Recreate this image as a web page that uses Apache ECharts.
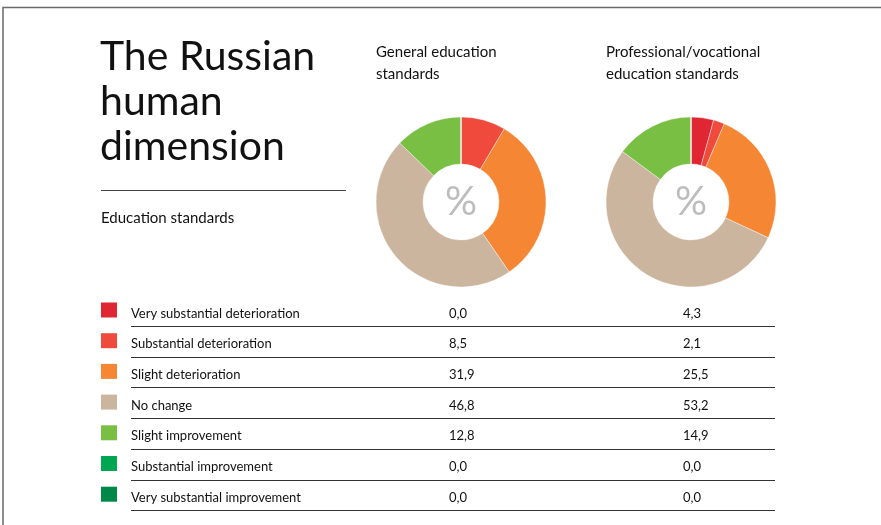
<!DOCTYPE html>
<html>
<head>
<meta charset="utf-8">
<script src="https://cdn.jsdelivr.net/npm/echarts@6/dist/echarts.min.js"></script>
<style>
  html, body { margin: 0; padding: 0; background: #fff; }
  #chart { width: 881px; height: 525px; }
</style>
</head>
<body>
<div id="chart"></div>
<script>
// Change categories, shared by both doughnuts and the table
const categories = [
  'Very substantial deterioration',
  'Substantial deterioration',
  'Slight deterioration',
  'No change',
  'Slight improvement',
  'Substantial improvement',
  'Very substantial improvement'
];
const categoryColors = ['#e02633', '#ef4a3c', '#f58634', '#cbb59e', '#79bf43', '#00a651', '#008848'];

// Share of respondents, %
const generalValues = [0.0, 8.5, 31.9, 46.8, 12.8, 0.0, 0.0];
const vocationalValues = [4.3, 2.1, 25.5, 53.2, 14.9, 0.0, 0.0];

const pieTitles = ['General education\nstandards', 'Professional/vocational\neducation standards'];
const mainTitleLines = ['The Russian', 'human', 'dimension'];
const subTitle = 'Education standards';

const FONT = 'Lato, "Open Sans", sans-serif';
const fmt = v => v.toFixed(1).replace('.', ',');

const chart = echarts.init(document.getElementById('chart'), null, { renderer: 'canvas' });

const pieCenters = [[461, 202], [691, 202]];
const valueColumnX = [449, 683];

function pieSeries(values, center) {
  return {
    type: 'pie',
    center: center,
    radius: [38, 85],
    startAngle: 90,
    clockwise: true,
    silent: true,
    label: { show: false },
    labelLine: { show: false },
    itemStyle: { borderColor: '#fff', borderWidth: 0.4 },
    data: categories.map((name, i) => ({
      name: name,
      value: values[i],
      itemStyle: { color: categoryColors[i] }
    }))
  };
}

const graphics = [];

// page frame
graphics.push({
  type: 'polyline',
  shape: { points: [[3, 525], [3, 7.5], [881, 7.5]] },
  style: { stroke: '#6a6a6a', lineWidth: 1.5, fill: null }
});

// heading
mainTitleLines.forEach((line, i) => {
  graphics.push({
    type: 'text', x: 100, y: 57 + i * 45,
    style: { text: line, font: '41px ' + FONT, fill: '#111', verticalAlign: 'middle', align: 'left' }
  });
});
graphics.push({
  type: 'line', shape: { x1: 101, y1: 190.5, x2: 346, y2: 190.5 },
  style: { stroke: '#444', lineWidth: 1 }
});
graphics.push({
  type: 'text', x: 101, y: 218,
  style: { text: subTitle, font: '15px ' + FONT, fill: '#111', verticalAlign: 'middle', align: 'left' }
});

// doughnut headings and centre marks
pieTitles.forEach((t, k) => {
  t.split('\n').forEach((line, j) => {
    graphics.push({
      type: 'text', x: pieCenters[k][0] - 85, y: 52 + j * 22,
      style: { text: line, font: '15px ' + FONT, fill: '#111', verticalAlign: 'middle', align: 'left' }
    });
  });
  graphics.push({
    type: 'text', x: pieCenters[k][0], y: pieCenters[k][1],
    style: { text: '%', font: '40px ' + FONT, fill: '#bdbdbd', verticalAlign: 'middle', align: 'center' }
  });
});

// table: colour key, category name, value per chart
const rowY0 = 313.5, rowStep = 30.7;
categories.forEach((name, i) => {
  const cy = rowY0 + i * rowStep;
  graphics.push({
    type: 'rect', shape: { x: 101, y: cy - 11, width: 16, height: 15 },
    style: { fill: categoryColors[i] }
  });
  graphics.push({
    type: 'text', x: 131, y: cy,
    style: { text: name, font: '13px ' + FONT, fill: '#111', verticalAlign: 'middle', align: 'left' }
  });
  [generalValues, vocationalValues].forEach((vals, k) => {
    graphics.push({
      type: 'text', x: valueColumnX[k], y: cy,
      style: { text: fmt(vals[i]), font: '13px ' + FONT, fill: '#111', verticalAlign: 'middle', align: 'left' }
    });
  });
  const ly = Math.round(cy + 12.5) + 0.5;
  graphics.push({
    type: 'line', shape: { x1: 131, y1: ly, x2: 775, y2: ly },
    style: { stroke: '#333', lineWidth: 1 }
  });
});

chart.setOption({
  backgroundColor: '#fff',
  animation: false,
  series: [
    pieSeries(generalValues, pieCenters[0]),
    pieSeries(vocationalValues, pieCenters[1])
  ],
  graphic: graphics
});
</script>
</body>
</html>
